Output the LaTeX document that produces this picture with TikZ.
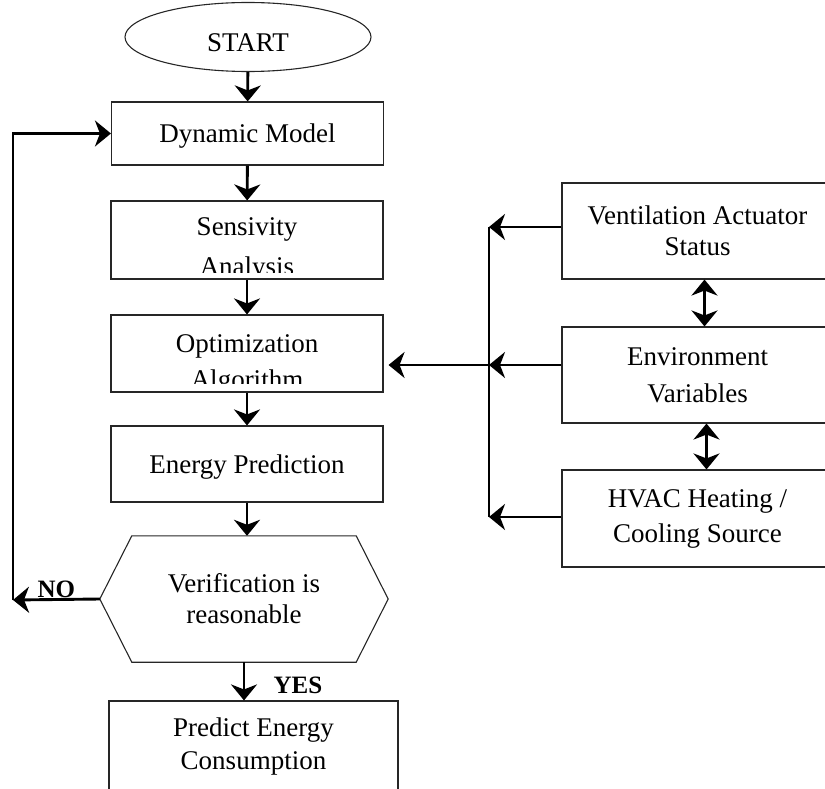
\documentclass[tikz,border=0pt]{standalone}
\usepackage{fontspec}
\setmainfont{Liberation Serif}
\usetikzlibrary{arrows.meta,shapes.geometric}

\tikzset{
	box/.style = {draw = black!85, line width = 1.1pt, minimum width = 272pt, inner sep = 0pt, align = center},
	arr/.style = {line width = 2.9pt, -{Stealth[length = 16pt, width = 26pt, inset = 5pt]}},
	arrboth/.style = {line width = 2.9pt, {Stealth[length = 16pt, width = 26pt, inset = 5pt]}-{Stealth[length = 16pt, width = 26pt, inset = 5pt]}},
	yesno/.style = {anchor = base west, font = \fontsize{25pt}{30pt}\selectfont\bfseries}
}

\begin{document}
\begin{tikzpicture} [x = 1pt, y = -1pt, font = \fontsize{27pt}{31pt}\selectfont]
	\clip (0,0) rectangle (825,789);
	% main column
	\node [ellipse, draw = black!85, line width = 1.1pt, minimum width = 246pt, minimum height = 69pt] (start) at (248,37) {};
	\node [anchor = base] (starttext) at (248,52) {START};
	\node [box, minimum height = 63pt, text depth = 0pt] (dyn) at (247.5,133.5) {Dynamic Model};
	\node [box, minimum height = 78pt] (sa) at (247,240) {};
	\node [box, minimum height = 77pt] (oa) at (247,353.5) {};
	\node [box, minimum height = 76pt, text depth = 0pt] (ep) at (247,464) {Energy Prediction};
	\node [minimum width = 288pt, minimum height = 126pt, inner sep = 0pt, align = center] (ver) at (244,599) {Verification is\\reasonable};
	\draw [black!85, line width = 1.1pt] (ver.west) -- ([xshift = 32pt]ver.north west) -- ([xshift = -32pt]ver.north east) -- (ver.east) -- ([xshift = -32pt]ver.south east) -- ([xshift = 32pt]ver.south west) -- cycle;
	\node [box, minimum width = 289pt, minimum height = 92pt] (pec) at (253.5,747) {Predict Energy\\[2pt]Consumption};
	% texts cut off by their boxes
	\begin{scope}
		\clip (sa.north west) rectangle ([yshift = 7pt]sa.south east);
		\node [anchor = base] (satop) at (247,235) {Sensivity};
		\node [anchor = base] (sabot) at (247,275) {Analysis};
	\end{scope}
	\begin{scope}
		\clip (oa.north west) rectangle ([yshift = 9pt]oa.south east);
		\node [anchor = base] (oatop) at (247,352) {Optimization};
		\node [anchor = base] (oabot) at (247,388) {Algorithm};
	\end{scope}
	% inputs
	\node [box, minimum width = 271pt, minimum height = 96pt] (va) at (697.5,231) {Ventilation Actuator\\Status};
	\node [box, minimum width = 271pt, minimum height = 96pt] (ev) at (697.5,375) {Environment\\[6pt]Variables};
	\node [box, minimum width = 271pt, minimum height = 97pt] (hv) at (697.5,518.5) {HVAC Heating /\\[4pt]Cooling Source};
	% flow
	\draw [arr] (start) -- (dyn);
	\draw [arr] (dyn) -- (sa);
	\draw [arr] (sa) -- (oa);
	\draw [arr] (oa) -- (ep);
	\draw [arr] (ep.south) -- (ep.south |- ver.north);
	\draw [arr] (ver.south) -- (ver.south |- pec.north);
	\node [yesno] (yes) at (270,693) {YES};
	\coordinate (noend) at (13,600);
	\draw [arr] (ver.west) -- (noend);
	\draw [arr] (noend) |- (dyn.west);
	\node [yesno] (no) at (34,597) {NO};
	% bus
	\coordinate (bustop) at (489,227);
	\coordinate (busmid) at (489,365);
	\coordinate (busbot) at (489,517);
	\draw [line width = 2.9pt] (bustop) -- (busbot);
	\draw [arr] (va.west |- bustop) -- (bustop);
	\draw [arr] (ev.west |- busmid) -- (busmid);
	\draw [arr] (hv.west |- busbot) -- (busbot);
	\draw [arr, shorten > = 5pt] (busmid) -- (busmid -| oa.east);
	\draw [arrboth] ([xshift = 7pt]va.south) -- ([xshift = 7pt]ev.north);
	\draw [arrboth] ([xshift = 9pt]ev.south) -- ([xshift = 9pt]hv.north);
\end{tikzpicture}
\end{document}
